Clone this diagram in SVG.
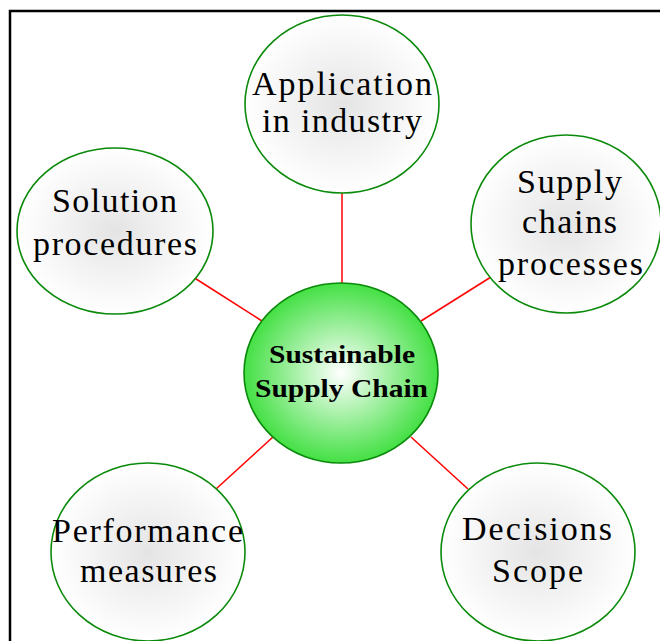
<svg xmlns="http://www.w3.org/2000/svg" width="660" height="641" viewBox="0 0 660 641">
<defs>
<radialGradient id="gOuter" cx="50%" cy="50%" r="50%">
<stop offset="0" stop-color="#e4e4e4"/>
<stop offset="1" stop-color="#ffffff"/>
</radialGradient>
<radialGradient id="gCenter" cx="50%" cy="50%" r="50%">
<stop offset="0" stop-color="#ffffff"/>
<stop offset="1" stop-color="#44e044"/>
</radialGradient>
<style>
.outer{fill:url(#gOuter);stroke:#0a8a0a;stroke-width:1.6}
.center{fill:url(#gCenter);stroke:#0a8a0a;stroke-width:1.6}
.t{font-family:"Liberation Serif","Times New Roman",serif;font-size:34px;fill:#000}
.tc{font-family:"Liberation Serif","Times New Roman",serif;font-size:26px;font-weight:bold;fill:#000}
.conn line{stroke:#ff0000;stroke-width:1.5}
</style>
</defs>
<rect x="0" y="0" width="660" height="641" fill="#ffffff"/>
<rect x="10" y="11" width="700" height="700" fill="none" stroke="#000" stroke-width="2.5"/>
<g id="connectors" class="conn">
<line x1="342" y1="193" x2="342" y2="283"/>
<line x1="193" y1="277" x2="262" y2="321"/>
<line x1="491" y1="277" x2="421" y2="321"/>
<line x1="216" y1="489" x2="273" y2="437"/>
<line x1="468" y1="489" x2="411" y2="437"/>
</g>
<g id="node-application">
<ellipse class="outer" cx="342" cy="104" rx="97" ry="89"/>
<text class="t" x="252" y="95" textLength="180" lengthAdjust="spacing">Application</text>
<text class="t" x="262" y="132" textLength="160" lengthAdjust="spacing">in industry</text>
</g>
<g id="node-solution">
<ellipse class="outer" cx="115" cy="231" rx="98" ry="83"/>
<text class="t" x="52" y="212" textLength="125" lengthAdjust="spacing">Solution</text>
<text class="t" x="33" y="255" textLength="164" lengthAdjust="spacing">procedures</text>
</g>
<g id="node-supply">
<ellipse class="outer" cx="566" cy="224" rx="95" ry="89"/>
<text class="t" x="517" y="193" textLength="105" lengthAdjust="spacing">Supply</text>
<text class="t" x="522" y="233" textLength="95" lengthAdjust="spacing">chains</text>
<text class="t" x="498" y="275" textLength="145" lengthAdjust="spacing">processes</text>
</g>
<g id="node-center">
<ellipse class="center" cx="341" cy="373" rx="97" ry="90"/>
<text class="tc" x="269" y="363" textLength="146" lengthAdjust="spacingAndGlyphs">Sustainable</text>
<text class="tc" x="255" y="397" textLength="173" lengthAdjust="spacingAndGlyphs">Supply Chain</text>
</g>
<g id="node-performance">
<ellipse class="outer" cx="148" cy="552" rx="97" ry="89"/>
<text class="t" x="52" y="542" textLength="191" lengthAdjust="spacing">Performance</text>
<text class="t" x="80" y="582" textLength="137" lengthAdjust="spacing">measures</text>
</g>
<g id="node-decisions">
<ellipse class="outer" cx="538" cy="552" rx="97" ry="89"/>
<text class="t" x="462" y="540" textLength="150" lengthAdjust="spacing">Decisions</text>
<text class="t" x="492" y="582" textLength="91" lengthAdjust="spacing">Scope</text>
</g>
</svg>
